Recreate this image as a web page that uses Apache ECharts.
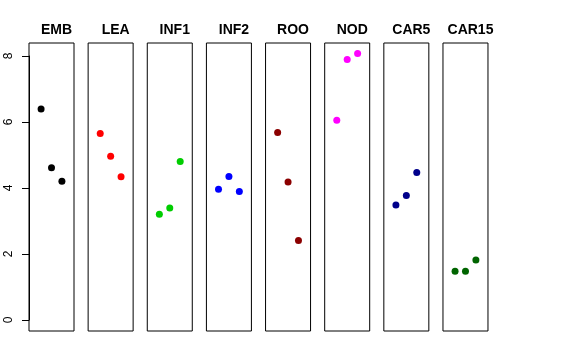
<!DOCTYPE html>
<html><head><meta charset="utf-8">
<script src="https://cdn.jsdelivr.net/npm/echarts@6/dist/echarts.min.js"></script>
<style>html,body{margin:0;padding:0;background:#fff}#c{width:576px;height:360px}</style>
</head><body><div id="c"></div>
<script>
const panels = ['EMB','LEA','INF1','INF2','ROO','NOD','CAR5','CAR15'];
const colors = ['#000000','#FF0000','#00CD00','#0000FF','#8B0000','#FF00FF','#00008B','#006400'];
const xPos = [1, 2, 3];
const EMB = [6.39, 4.61, 4.20];
const LEA = [5.65, 4.96, 4.34];
const INF1 = [3.20, 3.39, 4.80];
const INF2 = [3.96, 4.35, 3.89];
const ROO = [5.68, 4.18, 2.41];
const NOD = [6.05, 7.89, 8.07];
const CAR5 = [3.48, 3.77, 4.47];
const CAR15 = [1.48, 1.48, 1.82];
const values = [EMB, LEA, INF1, INF2, ROO, NOD, CAR5, CAR15];
const yTicks = [0, 2, 4, 6, 8];

const FONT = 'Liberation Sans, Arial, sans-serif';
const grids = [], xAxes = [], yAxes = [], seriesList = [], titles = [];
const left0 = 29, step = 59.14, pw = 45, gTop = 43, ph = 288;
panels.forEach((p, i) => {
  const l = left0 + i * step;
  grids.push({left: l, top: gTop, width: pw, height: ph, show: true, borderColor: '#000', borderWidth: 1, backgroundColor: 'transparent'});
  xAxes.push({type: 'value', gridIndex: i, min: -0.16, max: 4.16, show: false});
  yAxes.push({type: 'value', gridIndex: i, min: -0.333, max: 8.39, show: false});
  seriesList.push({type: 'scatter', xAxisIndex: i, yAxisIndex: i, symbolSize: 7,
    itemStyle: {color: colors[i], opacity: 1}, data: values[i].map((v, k) => [xPos[k], v]), silent: true});
  titles.push({text: p, left: l + pw / 2, top: 18, textAlign: 'center',
    textStyle: {fontFamily: FONT, fontWeight: 'bold', fontSize: 14, color: '#000'}});
});
// axis-only grid for the left y scale
grids.push({left: left0, top: 56, width: 1, height: 264, show: false});
xAxes.push({type: 'value', gridIndex: 8, show: false, min: 0, max: 1});
yAxes.push({type: 'value', gridIndex: 8, min: yTicks[0], max: yTicks[yTicks.length - 1], interval: 2,
  axisLine: {show: true, lineStyle: {color: '#000', width: 1}},
  axisTick: {show: true, length: 7, lineStyle: {color: '#000'}},
  splitLine: {show: false},
  axisLabel: {show: true, rotate: 90, margin: 14, fontFamily: FONT, fontSize: 12, color: '#000'}});

const chart = echarts.init(document.getElementById('c'), null, {renderer: 'canvas'});
chart.setOption({animation: false, backgroundColor: '#fff', title: titles, grid: grids, xAxis: xAxes, yAxis: yAxes, series: seriesList});
</script></body></html>
